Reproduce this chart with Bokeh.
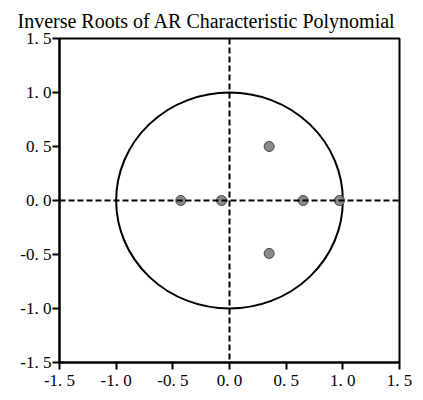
from bokeh.plotting import figure
from bokeh.models import Span, FixedTicker, Range1d
from bokeh.embed import file_html
from bokeh.resources import INLINE

# Inverse roots (real, imaginary)
root_re = [-0.43, -0.07, 0.35, 0.35, 0.65, 0.97]
root_im = [0.00, 0.00, 0.50, -0.49, 0.00, 0.00]

tick_values = [-1.5, -1.0, -0.5, 0.0, 0.5, 1.0, 1.5]
tick_labels = ["-1. 5", "-1. 0", "-0. 5", "0. 0", "0. 5", "1. 0", "1. 5"]

p = figure(width=415, height=392, output_backend="svg", toolbar_location=None,
           x_range=Range1d(-1.5, 1.5), y_range=Range1d(-1.5, 1.5),
           min_border_left=59, min_border_right=16, min_border_top=38, min_border_bottom=20)

p.title.text = "Inverse Roots of AR Characteristic Polynomial"
p.title.text_font = "Liberation Serif"
p.title.text_font_size = "20px"
p.title.text_font_style = "normal"
p.title.text_color = "black"
p.title.align = "left"
p.title.offset = -42
p.title.standoff = 13

p.grid.visible = False
p.outline_line_color = "black"
p.outline_line_width = 2

labels = dict(zip(tick_values, tick_labels))
for ax in (p.xaxis[0], p.yaxis[0]):
    ax.ticker = FixedTicker(ticks=tick_values)
    ax.major_label_overrides = labels
    ax.major_label_text_font = "Liberation Serif"
    ax.major_label_text_font_size = "17px"
    ax.major_label_text_color = "black"
    ax.axis_line_color = "black"
    ax.axis_line_width = 2
    ax.major_tick_line_color = "black"
    ax.major_tick_line_width = 2
    ax.major_tick_out = 7
    ax.major_tick_in = 0
    ax.minor_tick_line_color = None
    ax.major_label_standoff = 1

p.add_layout(Span(location=0, dimension="height", line_color="black",
                  line_width=2, line_dash="6 3"))
p.add_layout(Span(location=0, dimension="width", line_color="black",
                  line_width=2, line_dash="6 3"))

p.ellipse(x=0, y=0, width=2, height=2, fill_color=None, line_color="black", line_width=2)

p.scatter(root_re, root_im, size=10, marker="circle", fill_color="#8a8a8a",
          line_color="#444444", line_width=1)

open("out.html", "w").write(file_html(p, INLINE))
